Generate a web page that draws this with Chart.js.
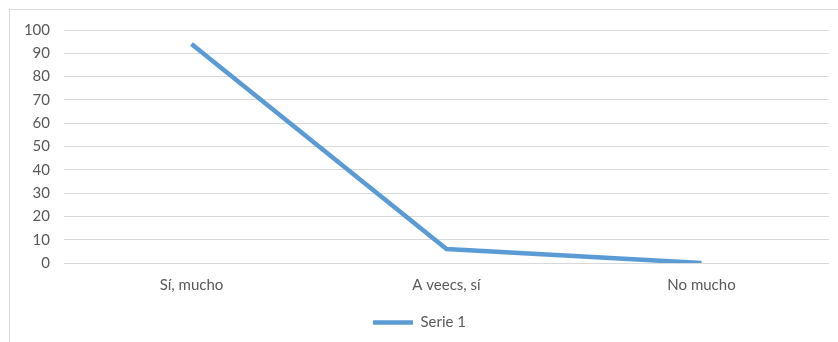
<!DOCTYPE html>
<html>
<head>
<meta charset="utf-8">
<script src="https://cdn.jsdelivr.net/npm/chart.js@4"></script>
<style>
  body { margin: 0; background: #fff; }
  #frame {
    position: absolute; left: 9px; top: 9px;
    width: 829px; height: 333px;
    border-top: 1px solid #d9d9d9; border-left: 1px solid #d9d9d9;
  }
</style>
</head>
<body>
<div id="frame"><canvas id="chart1" width="829" height="333"></canvas></div>
<script>
var categories = ["Sí, mucho", "A veecs, sí", "No mucho"];
var serie1 = [94, 6, 0];
var yTicks = { min: 0, max: 100, step: 10 };

var chart1 = new Chart(document.getElementById("chart1"), {
  type: 'line',
  data: {
    labels: categories,
    datasets: [{
      label: "Serie 1",
      data: serie1,
      borderColor: "#5b9bd5",
      backgroundColor: "#5b9bd5",
      borderWidth: 4.5,
      pointRadius: 0,
      tension: 0
    }]
  },
  options: {
    responsive: false,
    animation: false,
    layout: {
      padding: { left: 0, right: 10, top: 20, bottom: 3 }
    },
    scales: {
      x: {
        offset: true,
        afterFit: function(scale) { scale.height = 42; scale.paddingLeft = 0; scale.paddingRight = 0; },
        grid: { display: false },
        border: { display: false },
        ticks: { color: "#595959", font: { family: "Lato", size: 15 }, padding: 5 }
      },
      y: {
        min: yTicks.min,
        max: yTicks.max,
        afterFit: function(scale) { scale.width = 54; scale.paddingTop = 0; scale.paddingBottom = 0; },
        grid: { color: "#d9d9d9", lineWidth: 1, drawTicks: false },
        border: { display: false },
        ticks: { stepSize: yTicks.step, color: "#595959", font: { family: "Lato", size: 15 }, padding: 14 }
      }
    },
    plugins: {
      legend: {
        display: true,
        position: "bottom",
        labels: {
          usePointStyle: true,
          pointStyle: "line",
          pointStyleWidth: 40,
          color: "#595959",
          font: { family: "Lato", size: 15 },
          padding: 10
        }
      },
      tooltip: { enabled: false }
    }
  }
});
</script>
</body>
</html>
